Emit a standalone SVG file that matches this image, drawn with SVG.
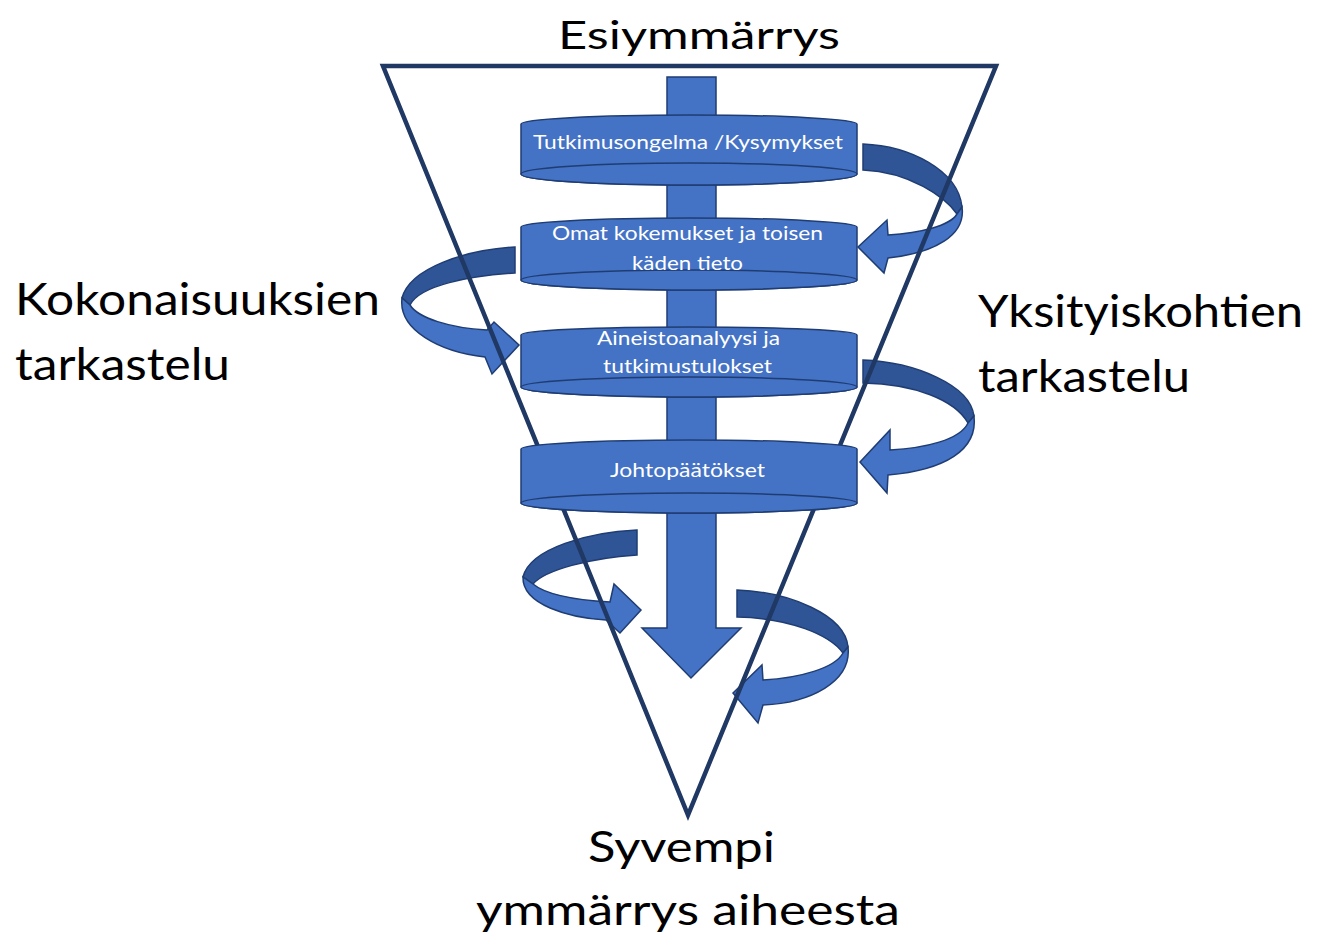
<svg xmlns="http://www.w3.org/2000/svg" width="1324" height="938" viewBox="0 0 1324 938">
<style>
.lt{fill:#4472c4;stroke:#1f3d73;stroke-width:1.5;stroke-linejoin:miter}
.dk{fill:#2f5597;stroke:#1f3d73;stroke-width:1.5}
.disc{fill:#4472c4;stroke:#1f3d73;stroke-width:1.5}
.dt{fill:#ffffff;font-family:Lato,"Liberation Sans",sans-serif;font-size:20px}
.lb{fill:#000000;font-family:Lato,"Liberation Sans",sans-serif}
</style>
<rect width="1324" height="938" fill="#ffffff"/>
<g id="connectors">
  <g id="loop-right-1">
    <path class="dk" d="M863,144 C910,146 958,170 962,207 L957,214 C945,197 910,172 863,170 Z"/>
    <path class="lt" d="M962,207 C966,235 935,253 888,258 L884,273 L858,247 L887,220 L888,235 C920,233 950,226 957,214 Z"/>
  </g>
  <g id="loop-left-1">
    <path class="dk" d="M515,247 C465,250 410,268 402,298 L410,305 C420,285 470,276 515,273 Z"/>
    <path class="lt" d="M402,298 C398,330 440,352 485,357 L492,374 L519,345 L494,322 L487,330 C450,328 418,318 410,305 Z"/>
  </g>
  <g id="loop-right-2">
    <path class="dk" d="M863,360 C915,362 970,385 974,416 L968,423 C955,400 915,384 863,383 Z"/>
    <path class="lt" d="M974,416 C978,450 945,470 888,475 L887,493 L860,462 L890,430 L890,450 C925,448 960,440 968,423 Z"/>
  </g>
  <g id="loop-left-2">
    <path class="dk" d="M637,530 C590,532 530,548 523,577 L533,584 C545,570 590,558 637,555 Z"/>
    <path class="lt" d="M523,577 C522,605 570,618 606,620 L620,633 L641,610 L614,584 L610,602 C575,600 545,594 533,584 Z"/>
  </g>
  <g id="loop-right-3">
    <path class="dk" d="M737,590 C790,592 845,615 848,647 L843,653 C830,635 790,618 737,617 Z"/>
    <path class="lt" d="M848,647 C852,682 810,703 763,705 L758,723 L733,693 L762,665 L763,680 C800,678 835,668 843,653 Z"/>
  </g>
  <path id="main-arrow" class="lt" d="M667,77 L716,77 L716,628 L741,628 L691,678 L642,628 L667,628 Z"/>
</g>
<g id="funnel">
  <path d="M383,66 L996,66 L688,815 Z" fill="none" stroke="#1f3864" stroke-width="4.5" stroke-linejoin="miter"/>
</g>
<g id="disc-1">
  <path class="disc" d="M521,124 A168,9 0 0 1 857,124 L857,174 A168,11 0 0 1 521,174 Z"/>
  <ellipse class="disc" cx="689" cy="174" rx="168" ry="11"/>
  <text class="dt" x="533" y="149" textLength="310" lengthAdjust="spacingAndGlyphs">Tutkimusongelma /Kysymykset</text>
</g>
<g id="disc-2">
  <path class="disc" d="M521,227 A168,9 0 0 1 857,227 L857,280 A168,10 0 0 1 521,280 Z"/>
  <ellipse class="disc" cx="689" cy="280" rx="168" ry="10"/>
  <text class="dt" x="552" y="240" textLength="271" lengthAdjust="spacingAndGlyphs">Omat kokemukset ja toisen</text>
  <text class="dt" x="632" y="270" textLength="111" lengthAdjust="spacingAndGlyphs">käden tieto</text>
</g>
<g id="disc-3">
  <path class="disc" d="M521,335 A168,8 0 0 1 857,335 L857,387 A168,10 0 0 1 521,387 Z"/>
  <ellipse class="disc" cx="689" cy="387" rx="168" ry="10"/>
  <text class="dt" x="597" y="345" textLength="183" lengthAdjust="spacingAndGlyphs">Aineistoanalyysi ja</text>
  <text class="dt" x="603" y="373" textLength="169" lengthAdjust="spacingAndGlyphs">tutkimustulokset</text>
</g>
<g id="disc-4">
  <path class="disc" d="M521,449 A168,9 0 0 1 857,449 L857,503 A168,10 0 0 1 521,503 Z"/>
  <ellipse class="disc" cx="689" cy="503" rx="168" ry="10"/>
  <text class="dt" x="610" y="477" textLength="155" lengthAdjust="spacingAndGlyphs">Johtopäätökset</text>
</g>
<g id="label-top">
  <text class="lb" x="558" y="49" font-size="38" textLength="282" lengthAdjust="spacingAndGlyphs">Esiymmärrys</text>
</g>
<g id="label-left">
  <text class="lb" x="15" y="315" font-size="44" textLength="365" lengthAdjust="spacingAndGlyphs">Kokonaisuuksien</text>
  <text class="lb" x="15" y="380" font-size="44" textLength="215" lengthAdjust="spacingAndGlyphs">tarkastelu</text>
</g>
<g id="label-right">
  <text class="lb" x="978" y="327" font-size="44" textLength="325" lengthAdjust="spacingAndGlyphs">Yksityiskohtien</text>
  <text class="lb" x="978" y="392" font-size="44" textLength="212" lengthAdjust="spacingAndGlyphs">tarkastelu</text>
</g>
<g id="label-bottom">
  <text class="lb" x="588" y="862" font-size="42" textLength="187" lengthAdjust="spacingAndGlyphs">Syvempi</text>
  <text class="lb" x="476" y="925" font-size="42" textLength="424" lengthAdjust="spacingAndGlyphs">ymmärrys aiheesta</text>
</g>
</svg>
